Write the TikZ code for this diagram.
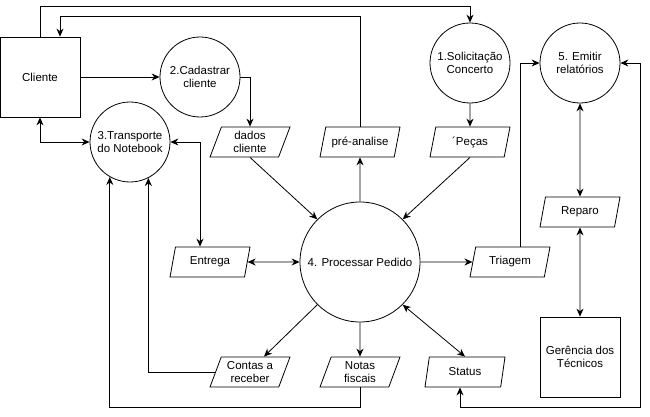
\documentclass[tikz,border=0pt]{standalone}
\usepackage{fontspec}
\setmainfont{Liberation Sans}
\usetikzlibrary{shapes.geometric}
\usetikzlibrary{positioning}
\usetikzlibrary{arrows.meta}

\tikzset{
	>={Stealth[length=8pt,width=7pt]},
	every node/.style={font=\fontsize{11.5}{13}\selectfont, align=center, inner sep=0},
	ent/.style={draw, rectangle, minimum size=80},
	proc/.style={draw, circle, minimum size=80},
	data/.style={draw, trapezium, trapezium left angle=62, trapezium right angle=118,
		trapezium stretches body, minimum width=80, minimum height=30},
}

\begin{document}
\begin{tikzpicture}[x=1pt, y=-1pt, line width=0.8pt]
	\useasboundingbox (0,0) rectangle (650,417);
	% entidades e processos
	\node [ent] (cli) at (40,77) {Cliente};
	\node [proc] (sol) at (470,63) {1.Solicitação\\Concerto};
	\node [proc] (cad) at (200,77) {2.Cadastrar\\cliente};
	\node [proc] (transp) at (130,142) {3.Transporte\\do Notebook};
	\node [proc, minimum size=120] (ped) at (360,262) {4. Processar Pedido};
	\node [proc] (emit) at (580,63) {5. Emitir\\relatórios};
	\node [ent] (ger) at (580,357) {Gerência dos\\Técnicos};
	% dados
	\node [data] (dados) at (250,142) {dados\\cliente};
	\node [data] (pre) at (360,142) {pré-analise};
	\node [data] (pecas) at (470,142) {´Peças};
	\node [data] (entrega) at (210,262) {Entrega};
	\node [data] (triagem) at (510,262) {Triagem};
	\node [data] (reparo) at (580,212) {Reparo};
	\node [data] (contas) at (250,372) {Contas a\\receber};
	\node [data] (notas) at (360,372) {Notas\\fiscais};
	\node [data] (status) at (465,372) {Status};

	\draw [->] (cli.north) -- ++(0,-30) -| (sol.north);
	\draw [->] (pre.north) -- ++(0,-110) -| ([xshift=20]cli.north);
	\draw [->] (cli) -- (cad);
	\draw [->] (cad.east) -| (dados.north);
	\draw [<->] (cli.south) |- (transp.west);
	\draw [<->] ([xshift=-10]entrega.north) |- (transp.east);
	\draw [<->] (entrega.east) -- (ped.west);
	\draw [->] (contas.west) -| (transp.-63);
	\draw [->] (notas.south) -- ++(0,20) -| (transp.-120);
	\draw [->] (dados.south) -- (ped.135);
	\draw [->] (ped.north) -- (pre.south);
	\draw [->] (sol.south) -- (pecas.north);
	\draw [->] (pecas.south) -- (ped.45);
	\draw [->] (ped.-135) -- ([xshift=14]contas.north);
	\draw [->] (ped.south) -- (notas.north);
	\draw [<->] (ped.-45) -- (status.north);
	\draw [->] (ped.east) -- (triagem.west);
	\draw [->] ([xshift=10]triagem.north) |- (emit.west);
	\draw [<->] ([xshift=-5]status.south) -- ++(0,20) -| ([xshift=20]emit.east) -- (emit.east);
	\draw [<->] (emit.south) -- (reparo.north);
	\draw [<->] (reparo.south) -- (ger.north);
\end{tikzpicture}
\end{document}
